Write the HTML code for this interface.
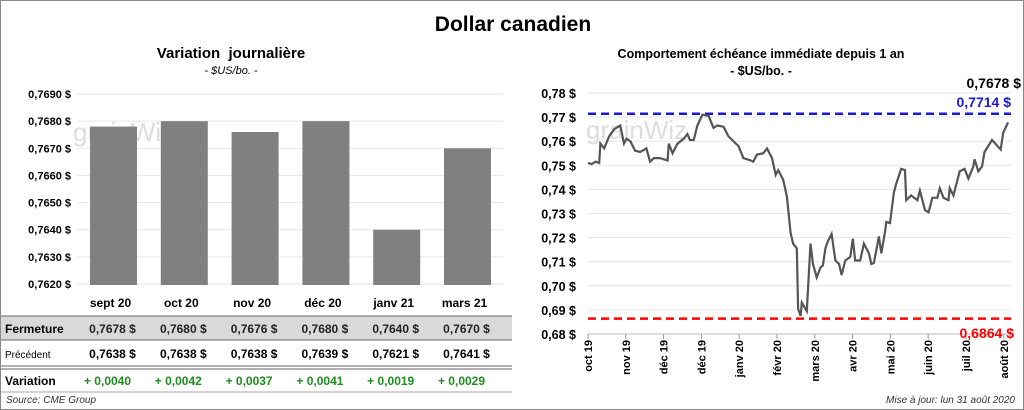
<!DOCTYPE html>
<html><head><meta charset="utf-8"><style>
body{margin:0;background:#fff;font-family:"Liberation Sans",sans-serif;}
#wrap{position:relative;width:1022px;height:408px;border:1px solid #888;overflow:hidden;}
.t{position:absolute;white-space:nowrap;}
</style></head><body>
<div id="wrap">
<div class="t" style="left:0;width:1024px;text-align:center;top:12px;font-size:21px;font-weight:bold;">Dollar canadien</div>
<div class="t" style="left:120px;width:220px;text-align:center;top:44px;font-size:15px;font-weight:bold;">Variation&nbsp; journalière</div>
<div class="t" style="left:120px;width:220px;text-align:center;top:64px;font-size:11px;font-style:italic;">- $US/bo. -</div>
<div class="t" style="left:580px;width:360px;text-align:center;top:46px;font-size:12.5px;font-weight:bold;">Comportement échéance immédiate depuis 1 an</div>
<div class="t" style="left:580px;width:360px;text-align:center;top:63px;font-size:12.5px;font-weight:bold;">- $US/bo. -</div>
<svg id="svg" width="1024" height="410" style="position:absolute;left:0;top:0"></svg>
<div class="t" style="left:5px;top:394px;font-size:10px;font-style:italic;color:#333;">Source: CME Group</div>
<div class="t" style="right:8px;top:394px;font-size:10px;font-style:italic;color:#333;">Mise à jour: lun 31 août 2020</div>
</div>
<script>
const barCats=["sept 20","oct 20","nov 20","déc 20","janv 21","mars 21"];
const barClose=[0.7678,0.7680,0.7676,0.7680,0.7640,0.7670];
const barPrev=[0.7638,0.7638,0.7638,0.7639,0.7621,0.7641];
const barVar=["+ 0,0040","+ 0,0042","+ 0,0037","+ 0,0041","+ 0,0019","+ 0,0029"];
const leftTicks=[0.7620,0.7630,0.7640,0.7650,0.7660,0.7670,0.7680,0.7690];
const lineDays=[0,3,6,9,10,13,17,21,26,29,31,34,38,42,47,50,53,58,64,65,68,72,77,80,82,85,88,92,97,101,104,109,113,117,121,125,131,133,136,141,144,148,151,153,157,160,163,165,168,169,171,172,176,179,181,184,187,189,191,193,196,199,202,204,207,211,213,215,219,222,226,228,230,234,236,239,240,243,246,248,252,255,256,260,265,267,271,274,277,281,283,286,290,291,294,297,299,303,306,310,311,314,317,319,325,332,334,338];
const lineVals=[.751,.7505,.7515,.751,.759,.757,.762,.765,.7665,.759,.761,.760,.756,.7555,.757,.7515,.753,.753,.752,.759,.755,.759,.761,.763,.7605,.7605,.7665,.771,.7705,.7655,.7665,.766,.762,.760,.758,.753,.752,.7515,.7545,.755,.757,.753,.746,.748,.744,.737,.722,.7175,.7155,.6905,.6875,.693,.6895,.7175,.709,.7035,.7075,.7085,.7155,.7185,.7215,.7105,.709,.7045,.7105,.712,.7195,.7105,.7105,.7175,.7135,.709,.7095,.7205,.7135,.7225,.7265,.726,.7385,.7425,.7485,.748,.7355,.7375,.7355,.7395,.7315,.7305,.7365,.7365,.7405,.7365,.7355,.7405,.7375,.7435,.7475,.7485,.7445,.7495,.7525,.7475,.7495,.7555,.7605,.7565,.7635,.7678];
const rightTicks=[0.68,0.69,0.70,0.71,0.72,0.73,0.74,0.75,0.76,0.77,0.78];
const months=["oct 19","nov 19","déc 19","déc 19","janv 20","févr 20","mars 20","avr 20","mai 20","juin 20","juil 20","août 20"];
const highVal=0.7714, lowVal=0.6864, lastVal=0.7678;

const S=document.getElementById('svg'),NS="http://www.w3.org/2000/svg";
function mk(t,a,txt){const e=document.createElementNS(NS,t);for(const k in a)e.setAttribute(k,a[k]);if(txt!=null)e.textContent=txt;S.appendChild(e);return e;}
const fmt=(v,d)=>v.toFixed(d).replace('.',',');
// left chart
const ly=v=>283-(v-0.7620)/0.0070*190;
const lx=i=>112.5+i*70.8;
leftTicks.forEach(v=>{let g=mk('line',{x1:76,x2:502,y1:ly(v),y2:ly(v),stroke:'#e6e6e6'});
let t=mk('text',{x:70,y:ly(v)+4,'text-anchor':'end','font-size':11,'font-weight':'bold'},fmt(v,4)+' $');});
mk('text',{x:72,y:140,'font-size':26,fill:'#ddd'},'grainWiz');
barClose.forEach((v,i)=>{let r=mk('rect',{x:lx(i)-23.5,y:ly(v),width:47,height:283-ly(v)+1,fill:'#808080'});});
// table
mk('rect',{x:0,y:315,width:511,height:24,fill:'#d9d9d9'});
mk('line',{x1:0,x2:511,y1:315,y2:315,stroke:'#666'});
mk('line',{x1:0,x2:511,y1:339,y2:339,stroke:'#666'});
mk('line',{x1:0,x2:511,y1:365,y2:365,stroke:'#666'});
mk('line',{x1:0,x2:511,y1:368,y2:368,stroke:'#666'});
mk('line',{x1:0,x2:511,y1:391,y2:391,stroke:'#aaa'});
[['Fermeture',332,12,'bold'],['Précédent',357,10,'normal'],['Variation',384,12,'bold']].forEach(r=>{let t=mk('text',{x:4,y:r[1],'font-size':r[2],'font-weight':r[3]},r[0]);});
barCats.forEach((c,i)=>{
let t=mk('text',{x:lx(i)-3,y:306,'text-anchor':'middle','font-size':12,'font-weight':'bold'},c);
t=mk('text',{x:lx(i)-1,y:332,'text-anchor':'middle','font-size':12,'font-weight':'bold',fill:'#222','xml:space':'preserve'},fmt(barClose[i],4)+'  $');
t=mk('text',{x:lx(i)-1,y:357,'text-anchor':'middle','font-size':12,'font-weight':'bold','xml:space':'preserve'},fmt(barPrev[i],4)+'  $');
t=mk('text',{x:lx(i)-6,y:384,'text-anchor':'middle','font-size':12,'font-weight':'bold',fill:'#1e8c1e'},barVar[i]);
});
// right chart
const ry=v=>333-(v-0.68)/0.10*241;
const rx=d=>587+d*1.243;
rightTicks.forEach(v=>{let g=mk('line',{x1:587,x2:1010,y1:ry(v),y2:ry(v),stroke:'#e6e6e6'});
let t=mk('text',{x:575,y:ry(v)+5,'text-anchor':'end','font-size':12.5,'font-weight':'bold'},fmt(v,2)+' $');});
mk('text',{x:585,y:138,'font-size':26,fill:'#ddd'},'grainWiz');
mk('line',{x1:587,x2:1010,y1:333,y2:333,stroke:'#bbb'});
months.forEach((m,i)=>{const x=587+i*37.8;mk('line',{x1:x,x2:x,y1:333,y2:338,stroke:'#999'});
let t=mk('text',{transform:`translate(${x+4},${339}) rotate(-90)`,'text-anchor':'end','font-size':11,'font-weight':'bold'},m);});
let hl=mk('line',{x1:587,x2:1010,y1:ry(highVal),y2:ry(highVal),stroke:'#1a1ad0','stroke-width':2.5,'stroke-dasharray':'8,5'});
let ll=mk('line',{x1:587,x2:1010,y1:ry(lowVal),y2:ry(lowVal),stroke:'#f00','stroke-width':2.5,'stroke-dasharray':'8,5'});
let p=lineDays.map((d,i)=>(i?'L':'M')+rx(d).toFixed(1)+','+ry(lineVals[i]).toFixed(1)).join('');
let pl=mk('path',{d:p,fill:'none',stroke:'#555','stroke-width':2.2});
let t1=mk('text',{x:1020,y:87,'text-anchor':'end','font-size':14,'font-weight':'bold'},fmt(lastVal,4)+' $');
let t2=mk('text',{x:1010,y:106,'text-anchor':'end','font-size':14,'font-weight':'bold',fill:'#1a1ad0'},fmt(highVal,4)+' $');
let t3=mk('text',{x:1013,y:337,'text-anchor':'end','font-size':14,'font-weight':'bold',fill:'#f00'},fmt(lowVal,4)+' $');
</script>
</body></html>
